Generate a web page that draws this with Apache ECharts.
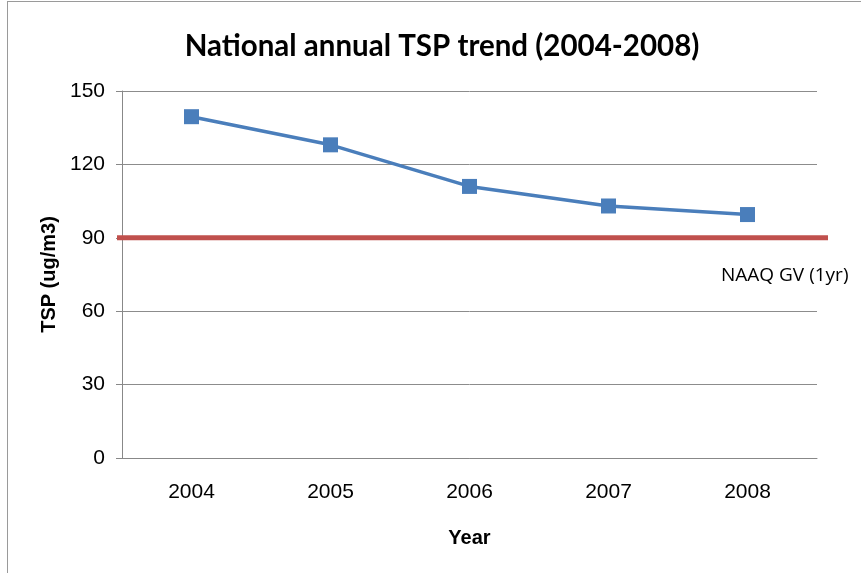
<!DOCTYPE html>
<html>
<head>
<meta charset="utf-8">
<title>National annual TSP trend</title>
<script src="https://cdn.jsdelivr.net/npm/echarts@6/dist/echarts.min.js"></script>
<style>
  html, body { margin: 0; padding: 0; background: #fff; overflow: hidden; }
  #chart { width: 861px; height: 573px; }
  .frame {
    position: absolute; left: 7px; top: 1px; width: 900px; height: 600px;
    border: 1px solid #9a9a9a; pointer-events: none;
  }
</style>
</head>
<body>
<div id="chart"></div>
<div class="frame"></div>
<script>
// data
const years = ['2004', '2005', '2006', '2007', '2008']
const tsp = [139.5, 128, 111, 103, 99.5]
const guideline = 90 // NAAQ GV (1yr)
const yTicks = [0, 30, 60, 90, 120, 150]

const chart = echarts.init(document.getElementById('chart'))

chart.setOption({
  animation: false,
  title: {
    text: 'National annual TSP trend (2004-2008)',
    left: 437,
    top: 26,
    textAlign: 'center',
    textStyle: { fontFamily: 'Lato', fontWeight: 'bold', fontSize: 29.5, color: '#000' }
  },
  grid: [
    { left: 122, right: 44, top: 91, bottom: 115 },
    // wider grid for the guideline, which runs past the plot edges
    { left: 117, right: 33, top: 91, bottom: 115 }
  ],
  xAxis: [
    {
      type: 'category',
      gridIndex: 0,
      data: years,
      name: 'Year',
      nameLocation: 'middle',
      nameGap: 70,
      nameTextStyle: { fontFamily: 'Liberation Sans', fontWeight: 'bold', fontSize: 20, color: '#000' },
      axisLine: { lineStyle: { color: '#888', width: 1 } },
      axisTick: { length: 6, lineStyle: { color: '#888' } },
      axisLabel: { fontFamily: 'Liberation Sans', fontSize: 21, color: '#000', margin: 24 }
    },
    {
      type: 'category',
      gridIndex: 1,
      data: ['a', 'b'],
      boundaryGap: false,
      show: false
    }
  ],
  yAxis: [
    {
      type: 'value',
      gridIndex: 0,
      min: yTicks[0],
      max: yTicks[yTicks.length - 1],
      interval: yTicks[1] - yTicks[0],
      name: 'TSP (ug/m3)',
      nameLocation: 'middle',
      nameGap: 63,
      nameRotate: 90,
      nameTextStyle: { fontFamily: 'Liberation Sans', fontWeight: 'bold', fontSize: 20, color: '#000' },
      axisLine: { show: true, lineStyle: { color: '#888', width: 1 } },
      axisTick: { show: true, length: 6, lineStyle: { color: '#888' } },
      axisLabel: { fontFamily: 'Liberation Sans', fontSize: 21, color: '#000', margin: 17 },
      splitLine: { lineStyle: { color: '#8c8c8c', width: 1 } }
    },
    {
      type: 'value',
      gridIndex: 1,
      min: yTicks[0],
      max: yTicks[yTicks.length - 1],
      show: false,
      splitLine: { show: false }
    }
  ],
  series: [
    {
      name: 'NAAQ GV (1yr)',
      type: 'line',
      xAxisIndex: 1,
      yAxisIndex: 1,
      data: [guideline, guideline],
      symbol: 'none',
      lineStyle: { color: '#c0504d', width: 5 },
      endLabel: {
        show: true,
        formatter: 'NAAQ GV (1yr)',
        fontFamily: 'Open Sans',
        fontSize: 19,
        color: '#000',
        offset: [-115, 38]
      },
      silent: true
    },
    {
      name: 'TSP',
      type: 'line',
      xAxisIndex: 0,
      yAxisIndex: 0,
      data: tsp,
      symbol: 'rect',
      symbolSize: 15,
      itemStyle: { color: '#4a7ebb' },
      lineStyle: { color: '#4a7ebb', width: 3.5 },
      z: 3
    }
  ]
})
</script>
</body>
</html>
